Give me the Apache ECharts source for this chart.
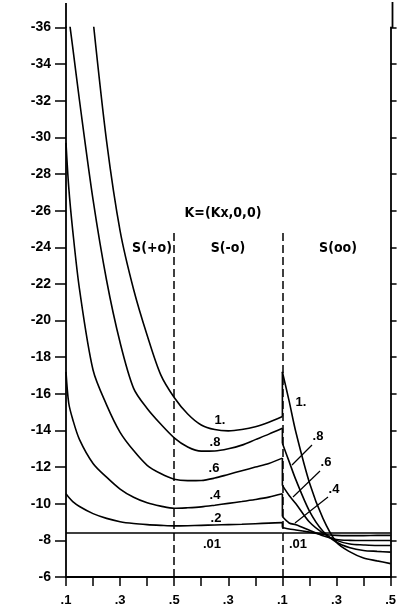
<!DOCTYPE html>
<html>
<head>
<meta charset="utf-8">
<script src="https://cdn.jsdelivr.net/npm/echarts@6/dist/echarts.min.js"></script>
<style>
  html, body { margin: 0; padding: 0; background: #fff; }
  #chart { width: 399px; height: 614px; }
</style>
</head>
<body>
<div id="chart"></div>
<script>
// k values sampled in each of the three regions
const kLeft = [0.1, 0.11, 0.125, 0.15, 0.2, 0.25, 0.3, 0.35, 0.4, 0.45, 0.5]; // S(+o)
const kMid = [0.5, 0.45, 0.4, 0.35, 0.3, 0.25, 0.2, 0.15, 0.1];             // S(-o)
const kRight = [0.1, 0.125, 0.15, 0.2, 0.25, 0.3, 0.35, 0.4, 0.45, 0.5];    // S(oo)

// magnitudes (axis reads -value), "-" = off the plot
const left10 = ["-", "-", "-", "-", 36.4, 29.8, 24.9, 21.7, 19.2, 17.05, 15.8];
const mid10 = [15.8, 14.9, 14.3, 14.05, 13.98, 14.05, 14.2, 14.45, 14.76];
const right10 = [17.2, 15.6, 13.9, 11.15, 9.2, 7.9, 7.37, 7.04, 6.88, 6.73];

const left08 = [37.7, 36.6, 34.9, 32.0, 26.6, 22.2, 18.8, 16.3, 15.2, 14.35, 13.6];
const mid08 = [13.6, 13.1, 12.87, 12.88, 13.0, 13.2, 13.5, 13.8, 14.12];
const right08 = [13.3, 12.3, 11.3, 9.6, 8.5, 7.9, 7.6, 7.45, 7.4, 7.36];

const left06 = [29.7, 27.3, 24.9, 21.7, 17.3, 15.4, 13.9, 12.9, 12.1, 11.65, 11.34];
const mid06 = [11.34, 11.26, 11.27, 11.4, 11.6, 11.8, 12.0, 12.2, 12.49];
const right06 = [11.0, 10.45, 10.0, 9.0, 8.4, 8.0, 7.8, 7.75, 7.72, 7.72];

const left04 = [17.2, 15.5, 14.6, 13.5, 12.2, 11.45, 10.8, 10.35, 10.05, 9.87, 9.75];
const mid04 = [9.75, 9.78, 9.83, 9.92, 10.02, 10.12, 10.23, 10.36, 10.54];
const right04 = [9.3, 8.95, 8.85, 8.55, 8.25, 8.05, 8.0, 7.99, 7.99, 7.99];

const left02 = [10.55, 10.35, 10.12, 9.85, 9.46, 9.2, 9.02, 8.92, 8.86, 8.82, 8.79];
const mid02 = [8.79, 8.8, 8.82, 8.84, 8.86, 8.88, 8.91, 8.94, 8.97];
const right02 = [8.7, 8.62, 8.57, 8.45, 8.33, 8.27, 8.26, 8.26, 8.27, 8.27];

const left001 = [8.4, 8.4, 8.4, 8.4, 8.4, 8.4, 8.4, 8.4, 8.4, 8.4, 8.4];
const mid001 = [8.4, 8.4, 8.4, 8.4, 8.4, 8.4, 8.4, 8.4, 8.4];
const right001 = [8.4, 8.4, 8.4, 8.4, 8.4, 8.4, 8.4, 8.4, 8.4, 8.4];

const curveNames = ["1.", ".8", ".6", ".4", ".2", ".01"];
const xTickLabels = [".1", "", ".3", "", ".5", "", ".3", "", ".1", "", ".3", "", ".5"];
const yTickLabels = ["-6", "-8", "-10", "-12", "-14", "-16", "-18", "-20", "-22", "-24",
  "-26", "-28", "-30", "-32", "-34", "-36"];

const curves = [
  { name: curveNames[0], left: left10, mid: mid10, right: right10 },
  { name: curveNames[1], left: left08, mid: mid08, right: right08 },
  { name: curveNames[2], left: left06, mid: mid06, right: right06 },
  { name: curveNames[3], left: left04, mid: mid04, right: right04 },
  { name: curveNames[4], left: left02, mid: mid02, right: right02 },
  { name: curveNames[5], left: left001, mid: mid001, right: right001 },
];

// region boundaries sit at x = 4 and x = 8 (one unit = 0.1 in k)
const toLeft = (k) => (k - 0.1) * 10;
const toMid = (k) => 4 + (0.5 - k) * 10;
const toRight = (k) => 8 + (k - 0.1) * 10;

const lineStyle = { color: "#000", width: 1.6 };
const series = [];
curves.forEach((c) => {
  const main = kLeft.map((k, i) => [toLeft(k), c.left[i]])
    .concat(kMid.slice(1).map((k, i) => [toMid(k), c.mid[i + 1]]));
  series.push({ name: c.name, type: "line", data: main, smooth: 0.3, symbol: "none", lineStyle });
  series.push({ name: c.name, type: "line", data: kRight.map((k, i) => [toRight(k), c.right[i]]),
    smooth: 0.3, symbol: "none", lineStyle });
  const midEnd = c.mid[c.mid.length - 1];
  if (midEnd !== c.right[0]) {
    series.push({ name: c.name, type: "line", data: [[8, midEnd], [8, c.right[0]]],
      symbol: "none", lineStyle });
  }
});

// dashed region separators
series[0].markLine = {
  silent: true,
  symbol: "none",
  label: { show: false },
  lineStyle: { color: "#000", type: [8, 4], width: 1.5 },
  data: [
    [{ coord: [4, 6] }, { coord: [4, 24.9] }],
    [{ coord: [8, 6] }, { coord: [8, 24.9] }],
  ],
};

const labelFont = { fontFamily: "Liberation Sans, Arial, sans-serif", fontWeight: "bold", fontSize: 13, fill: "#000" };
const headFont = { fontFamily: "Liberation Sans Narrow, DejaVu Sans Condensed, Liberation Sans, sans-serif", fontWeight: "bold", fontSize: 14, fill: "#000" };

const text = (t, x, y, font) => ({
  type: "text", x, y, style: Object.assign({ text: t, align: "center", verticalAlign: "middle" }, font),
});
const seg = (x1, y1, x2, y2, w) => ({
  type: "line", shape: { x1, y1, x2, y2 }, style: { stroke: "#000", lineWidth: w || 1.2 },
});

const chart = echarts.init(document.getElementById("chart"));

const option = {
  animation: false,
  grid: { left: 66, right: 6.5, top: 27.5, bottom: 37 },
  xAxis: {
    type: "value",
    min: 0,
    max: 12,
    interval: 1,
    axisLine: { lineStyle: { color: "#000", width: 1.8 } },
    axisTick: { inside: false, length: 9, lineStyle: { color: "#000", width: 1.5 } },
    axisLabel: {
      margin: 17,
      color: "#000",
      fontSize: 13,
      fontWeight: "bold",
      fontFamily: "Liberation Sans, Arial, sans-serif",
      formatter: (v) => xTickLabels[Math.round(v)],
    },
    splitLine: { show: false },
  },
  yAxis: [
    {
      type: "value",
      min: 6,
      max: 36,
      interval: 2,
      position: "left",
      axisLine: { show: true, lineStyle: { color: "#000", width: 1.8 } },
      axisTick: { show: true, length: 11, lineStyle: { color: "#000", width: 1.5 } },
      axisLabel: {
        margin: 15,
        color: "#000",
        fontSize: 14,
        fontWeight: "bold",
        fontFamily: "Liberation Sans, Arial, sans-serif",
        formatter: (v) => yTickLabels[Math.round((v - 6) / 2)],
      },
      splitLine: { show: false },
    },
    {
      type: "value",
      min: 6,
      max: 36,
      interval: 2,
      position: "right",
      axisLine: { show: true, lineStyle: { color: "#000", width: 1.8 } },
      axisTick: { show: true, length: 6, lineStyle: { color: "#000", width: 1.5 } },
      axisLabel: { show: false },
      splitLine: { show: false },
    },
  ],
  series: series,
  graphic: [
    // axis lines run a little above the plotting window
    seg(66, 3, 66, 28, 1.8),
    seg(392.5, 2, 392.5, 28, 1.8),
    text("K=(Kx,0,0)", 223, 213, headFont),
    text("S(+o)", 152, 248, headFont),
    text("S(-o)", 228, 248, headFont),
    text("S(oo)", 338, 248, headFont),
    // curve labels, middle region
    text(curveNames[0], 220, 420, labelFont),
    text(curveNames[1], 215, 442, labelFont),
    text(curveNames[2], 214, 468, labelFont),
    text(curveNames[3], 215, 495, labelFont),
    text(curveNames[4], 216, 518, labelFont),
    text(curveNames[5], 212, 544, labelFont),
    // curve labels, right region
    text(curveNames[0], 301, 402, labelFont),
    text(curveNames[1], 318, 436, labelFont),
    text(curveNames[2], 326, 462, labelFont),
    text(curveNames[3], 334, 489, labelFont),
    text(curveNames[5], 298, 544, labelFont),
    seg(312, 445, 292, 465),
    seg(320, 471, 293, 497),
    seg(328, 497, 295, 523),
  ],
};

chart.setOption(option);
window.addEventListener("resize", () => chart.resize());
</script>
</body>
</html>
